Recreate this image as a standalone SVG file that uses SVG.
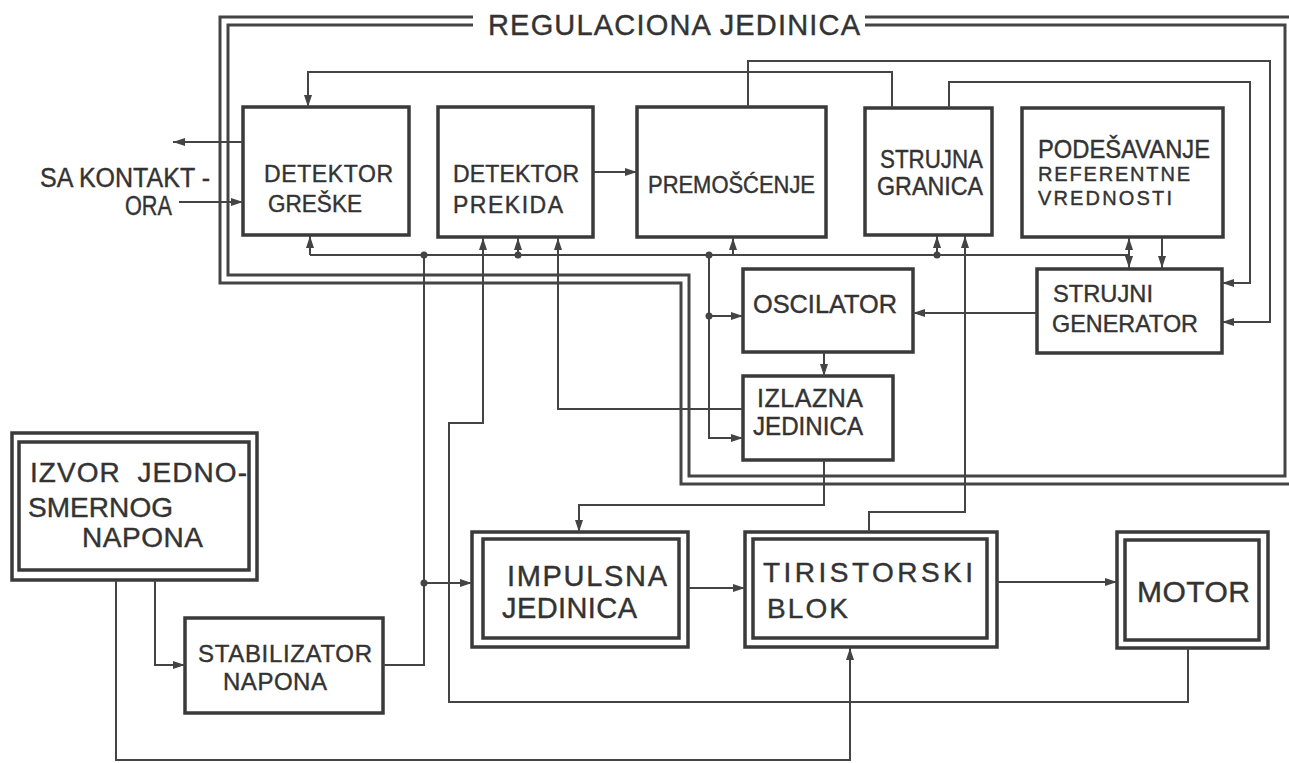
<svg xmlns="http://www.w3.org/2000/svg" width="1289" height="763" viewBox="0 0 1289 763">
<defs>
<style>
.box{fill:none;stroke:#3a3a3a;stroke-width:3.5}
.wire{fill:none;stroke:#444;stroke-width:2}
.arr{fill:none;stroke:#444;stroke-width:2;marker-end:url(#ah)}
.frame{fill:none;stroke:#444;stroke-width:3}
.dot{fill:#444}
text{font-family:"Liberation Sans",Arial,sans-serif;fill:#333;stroke:#333;stroke-width:0.4}
</style>
<marker id="ah" viewBox="0 0 12 8" refX="12" refY="4" markerWidth="12" markerHeight="8" orient="auto" markerUnits="userSpaceOnUse">
<path d="M0,0 L12,4 L0,8 z" fill="#444"/>
</marker>
</defs>
<rect width="1289" height="763" fill="#ffffff"/>

<g id="regulaciona-jedinica">
<path class="frame" d="M473,25 H228 V275 H689 V476 H1285 V25 H865"/>
<path class="frame" d="M473,17 H220 V283 H681 V484 H1295"/>
<path class="frame" d="M865,17 H1295"/>
<text x="488" y="35" font-size="29" textLength="372" lengthAdjust="spacing">REGULACIONA JEDINICA</text>
</g>

<g id="sa-kontaktora">
<text x="40" y="187" font-size="27" textLength="170" lengthAdjust="spacingAndGlyphs">SA KONTAKT -</text>
<text x="125" y="215" font-size="27" textLength="47" lengthAdjust="spacingAndGlyphs">ORA</text>
</g>

<g id="detektor-greske">
<rect class="box" x="243" y="107" width="166" height="128"/>
<text x="264" y="182" font-size="23" textLength="129" lengthAdjust="spacing">DETEKTOR</text>
<text x="268" y="212" font-size="23" textLength="94" lengthAdjust="spacingAndGlyphs">GREŠKE</text>
</g>

<g id="detektor-prekida">
<rect class="box" x="438" y="107" width="155" height="130"/>
<text x="453" y="182" font-size="23" textLength="126" lengthAdjust="spacing">DETEKTOR</text>
<text x="453" y="213" font-size="23" textLength="110" lengthAdjust="spacing">PREKIDA</text>
</g>

<g id="premoscenje">
<rect class="box" x="637" y="107" width="189" height="130"/>
<text x="648" y="193" font-size="23" textLength="167" lengthAdjust="spacingAndGlyphs">PREMOŠĆENJE</text>
</g>

<g id="strujna-granica">
<rect class="box" x="865" y="108" width="127" height="127"/>
<text x="880" y="168" font-size="25" textLength="103" lengthAdjust="spacingAndGlyphs">STRUJNA</text>
<text x="877" y="195" font-size="25" textLength="106" lengthAdjust="spacingAndGlyphs">GRANICA</text>
</g>

<g id="podesavanje">
<rect class="box" x="1022" y="108" width="201" height="129"/>
<text x="1038" y="158" font-size="25" textLength="172" lengthAdjust="spacingAndGlyphs">PODEŠAVANJE</text>
<text x="1038" y="181" font-size="20" textLength="152" lengthAdjust="spacing">REFERENTNE</text>
<text x="1038" y="205" font-size="20" textLength="134" lengthAdjust="spacing">VREDNOSTI</text>
</g>

<g id="oscilator">
<rect class="box" x="743" y="269" width="170" height="83"/>
<text x="753" y="313" font-size="25" textLength="144" lengthAdjust="spacingAndGlyphs">OSCILATOR</text>
</g>

<g id="izlazna-jedinica">
<rect class="box" x="743" y="376" width="150" height="84"/>
<text x="757" y="407" font-size="25" textLength="106" lengthAdjust="spacing">IZLAZNA</text>
<text x="753" y="435" font-size="25" textLength="110" lengthAdjust="spacingAndGlyphs">JEDINICA</text>
</g>

<g id="strujni-generator">
<rect class="box" x="1037" y="269" width="185" height="84"/>
<text x="1053" y="302" font-size="24" textLength="100" lengthAdjust="spacingAndGlyphs">STRUJNI</text>
<text x="1052" y="332" font-size="24" textLength="146" lengthAdjust="spacingAndGlyphs">GENERATOR</text>
</g>

<g id="izvor">
<rect class="box" x="12" y="433" width="245" height="147"/>
<rect class="box" x="19" y="442" width="230" height="128"/>
<text x="30" y="482" font-size="28" word-spacing="8" textLength="217" lengthAdjust="spacing">IZVOR JEDNO-</text>
<text x="28" y="517" font-size="28" textLength="145" lengthAdjust="spacing">SMERNOG</text>
<text x="82" y="547" font-size="28" textLength="121" lengthAdjust="spacing">NAPONA</text>
</g>

<g id="stabilizator">
<rect class="box" x="185" y="618" width="198" height="95"/>
<text x="198" y="662" font-size="24" textLength="174" lengthAdjust="spacing">STABILIZATOR</text>
<text x="223" y="690" font-size="24" textLength="104" lengthAdjust="spacing">NAPONA</text>
</g>

<g id="impulsna-jedinica">
<rect class="box" x="472" y="532" width="216" height="115"/>
<rect class="box" x="483" y="539" width="196" height="99"/>
<text x="507" y="586" font-size="29" textLength="160" lengthAdjust="spacing">IMPULSNA</text>
<text x="502" y="618" font-size="29" textLength="135" lengthAdjust="spacing">JEDINICA</text>
</g>

<g id="tiristorski-blok">
<rect class="box" x="745" y="532" width="252" height="115"/>
<rect class="box" x="753" y="539" width="234" height="99"/>
<text x="763" y="582" font-size="28" textLength="210" lengthAdjust="spacing">TIRISTORSKI</text>
<text x="767" y="618" font-size="28" textLength="81" lengthAdjust="spacing">BLOK</text>
</g>

<g id="motor">
<rect class="box" x="1117" y="532" width="151" height="116"/>
<rect class="box" x="1125" y="540" width="134" height="100"/>
<text x="1137" y="602" font-size="30" textLength="113" lengthAdjust="spacing">MOTOR</text>
</g>

<g id="connectors">
<path class="arr" d="M243,142 H173"/>
<path class="arr" d="M179,202 H243"/>
<path class="arr" d="M892,108 V72 H308 V107"/>
<path class="arr" d="M748,107 V61 H1270 V322 H1222"/>
<path class="arr" d="M949,108 V82 H1250 V283 H1222"/>
<path class="arr" d="M593,172 H637"/>
<path class="wire" d="M310,255 H1129"/>
<path class="arr" d="M310,255 V236"/>
<path class="arr" d="M518,255 V238"/>
<path class="arr" d="M733,255 V238"/>
<path class="arr" d="M937,255 V236"/>
<path class="arr" d="M1129,255 V238"/>
<path class="arr" d="M1129,255 V268"/>
<path class="arr" d="M1162,238 V268"/>
<path class="wire" d="M424,255 V665 H383"/>
<path class="arr" d="M424,583 H472"/>
<path class="arr" d="M709,255 V438 H743"/>
<path class="arr" d="M709,316 H743"/>
<path class="arr" d="M743,409 H558 V238"/>
<path class="arr" d="M1188,648 V702 H449 V423 H483 V238"/>
<path class="arr" d="M1037,313 H913"/>
<path class="arr" d="M824,352 V376"/>
<path class="arr" d="M824,460 V505 H579 V532"/>
<path class="arr" d="M688,588 H745"/>
<path class="arr" d="M997,582 H1117"/>
<path class="arr" d="M869,532 V512 H965 V236"/>
<path class="arr" d="M155,580 V665 H185"/>
<path class="arr" d="M116,580 V760 H850 V648"/>
<circle class="dot" cx="424" cy="255" r="3.5"/>
<circle class="dot" cx="518" cy="255" r="3.5"/>
<circle class="dot" cx="709" cy="255" r="3.5"/>
<circle class="dot" cx="937" cy="255" r="3.5"/>
<circle class="dot" cx="709" cy="316" r="3.5"/>
<circle class="dot" cx="424" cy="583" r="3.5"/>
</g>
</svg>
